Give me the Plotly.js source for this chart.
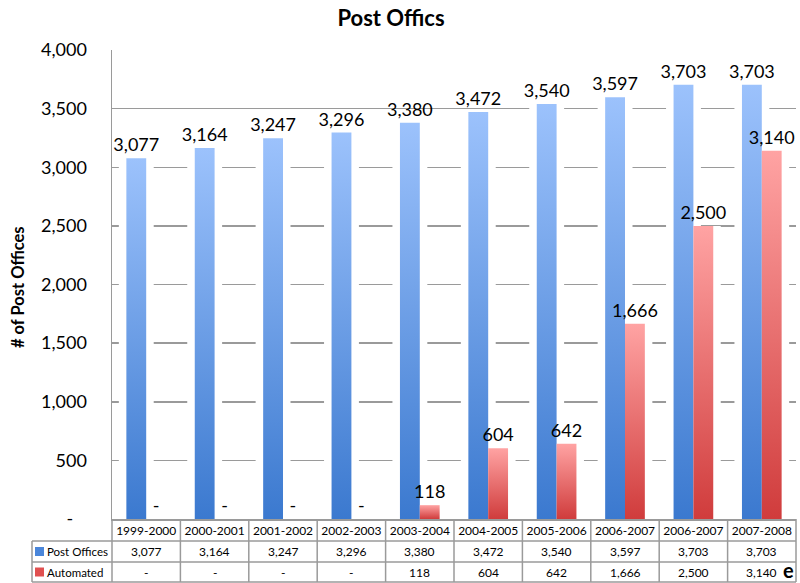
<!DOCTYPE html>
<html>
<head>
<meta charset="utf-8">
<script src="https://cdn.plot.ly/plotly-3.0.1.min.js"></script>
<style>
html,body{margin:0;padding:0;background:#fff;}
#chart{width:800px;height:583px;}
</style>
</head>
<body>
<div id="chart"></div>
<script>
var categories = ['1999-2000','2000-2001','2001-2002','2002-2003','2003-2004','2004-2005','2005-2006','2006-2007','2006-2007','2007-2008'];
var postOffices = [3077, 3164, 3247, 3296, 3380, 3472, 3540, 3597, 3703, 3703];
var automated = [0, 0, 0, 0, 118, 604, 642, 1666, 2500, 3140];
var yTickVals = [0, 500, 1000, 1500, 2000, 2500, 3000, 3500, 4000];
var yTickText = ['-\u00a0\u00a0\u00a0', '500', '1,000', '1,500', '2,000', '2,500', '3,000', '3,500', '4,000'];
var seriesNames = ['Post Offices', 'Automated'];

function fmt(v){ return v === 0 ? '-' : v.toLocaleString('en-US'); }

var FONT = 'Lato, "Open Sans", sans-serif';
var N = categories.length;
var idx = categories.map(function(c, i){ return i; });

// layout geometry (pixels)
var W = 800, H = 583, ML = 112, MR = 4, MT = 50, MB = 64;
var PW = W - ML - MR, PH = H - MT - MB;
function px(x){ return (x - ML) / PW; }
function py(y){ return (H - MB - y) / PH; }

var BW = 0.29, HALO = 0.11;
var traces = [
  {type:'bar', x: idx, y: postOffices, offset: -BW - HALO, width: BW + 2*HALO, marker:{color:'#ffffff', line:{width:0}}, hoverinfo:'skip', showlegend:false},
  {type:'bar', x: idx, y: automated, offset: 0, width: BW + HALO, marker:{color:'#ffffff', line:{width:0}}, hoverinfo:'skip', showlegend:false},
  {type:'bar', name: seriesNames[0], x: idx, y: postOffices, offset: -BW, width: BW,
   marker:{color:'#6a9de6', line:{width:0}}, text: postOffices.map(fmt), textposition:'outside',
   textfont:{family:FONT, size:18, color:'#000'}, constraintext:'none', cliponaxis:false},
  {type:'bar', name: seriesNames[1], x: idx, y: automated, offset: 0, width: BW,
   marker:{color:'#e87070', line:{width:0}}, text: automated.map(fmt), textposition:'outside',
   textfont:{family:FONT, size:18, color:'#000'}, constraintext:'none', cliponaxis:false}
];

var GRID = '#9a9a9a';
var shapes = [];
var annotations = [];
function line(x0,y0,x1,y1){ shapes.push({type:'line', xref:'paper', yref:'paper', x0:x0, y0:y0, x1:x1, y1:y1, line:{color:GRID, width:1.5}, layer:'above'}); }
// table horizontal lines
var rowTop = py(519), rowA = py(541), rowB = py(562), rowC = py(582);
line(px(32), rowA, 1, rowA);
line(px(32), rowB, 1, rowB);
line(px(32), rowC, 1, rowC);
// vertical lines
line(px(32), rowA, px(32), rowC);
for (var i = 0; i <= N; i++) { line(i / N, rowTop, i / N, rowC); }
// table values
var rowY = [(rowA + rowB) / 2, (rowB + rowC) / 2];
[postOffices, automated].forEach(function(arr, r){
  arr.forEach(function(v, i){
    annotations.push({xref:'x', yref:'paper', x:i, y:rowY[r], text: fmt(v), showarrow:false,
      font:{family:FONT, size:12, color:'#000'}, xanchor:'center', yanchor:'middle'});
  });
});
// row labels with swatches
var swatch = ['#4a86da', '#e05050'];
seriesNames.forEach(function(n, r){
  shapes.push({type:'rect', xref:'paper', yref:'paper', x0:px(35), x1:px(44), y0:rowY[r] - 4.5/PH, y1:rowY[r] + 4.5/PH,
    fillcolor: swatch[r], line:{width:0}, layer:'above'});
  annotations.push({xref:'paper', yref:'paper', x:px(45), y:rowY[r], text:n, showarrow:false,
    font:{family:FONT, size:11.5, color:'#000'}, xanchor:'left', yanchor:'middle'});
});
// y-axis title
annotations.push({xref:'paper', yref:'paper', x:px(18), y:py(287), text:'<b># of Post Offices</b>', textangle:-90,
  showarrow:false, font:{family:FONT, size:16.5, color:'#000'}, xanchor:'center', yanchor:'middle'});
// stray glyph at bottom-right
annotations.push({xref:'paper', yref:'paper', x:px(795), y:py(570), text:'<b>e</b>', showarrow:false,
  font:{family:FONT, size:20, color:'#000'}, xanchor:'right', yanchor:'middle', borderpad:0});

var layout = {
  width: W, height: H,
  margin: {l: ML, r: MR, t: MT, b: MB, pad: 0},
  paper_bgcolor:'#fff', plot_bgcolor:'#fff',
  font: {family: FONT, color:'#000'},
  title: {text:'<b>Post Offics</b>', x: 391/W, xanchor:'center', xref:'container', y: 1 - 18/H, yanchor:'middle', yref:'container',
    font:{family:FONT, size:22, color:'#000'}},
  barmode:'overlay',
  showlegend:false,
  xaxis: {range:[-0.5, N - 0.5], tickmode:'array', tickvals: idx, ticktext: categories, showgrid:false, zeroline:false,
    showline:true, linecolor:GRID, linewidth:1.5, ticks:'', tickfont:{family:FONT, size:12, color:'#000'}, fixedrange:true},
  yaxis: {range:[0, 4000], tickmode:'array', tickvals: yTickVals, ticktext: yTickText, showgrid:true, gridcolor:GRID, gridwidth:1.5,
    zeroline:false, showline:true, linecolor:GRID, linewidth:1.5, ticks:'', ticklabelstandoff: 20,
    tickfont:{family:FONT, size:18, color:'#000'}, fixedrange:true},
  shapes: shapes,
  annotations: annotations
};

Plotly.newPlot('chart', traces, layout, {displayModeBar:false, staticPlot:true}).then(function(gd){
  var svg = gd.querySelector('svg.main-svg');
  var defs = svg.querySelector('defs');
  var NS = 'http://www.w3.org/2000/svg';
  function grad(id, top, bottom){
    var g = document.createElementNS(NS, 'linearGradient');
    g.setAttribute('id', id); g.setAttribute('x1','0'); g.setAttribute('y1','0'); g.setAttribute('x2','0'); g.setAttribute('y2','1');
    [[0, top], [1, bottom]].forEach(function(s){
      var st = document.createElementNS(NS, 'stop');
      st.setAttribute('offset', s[0]); st.setAttribute('stop-color', s[1]);
      g.appendChild(st);
    });
    defs.appendChild(g);
  }
  grad('gBlue', '#9cc2fc', '#3b79cf');
  grad('gRed', '#ffa3a3', '#d03c3c');
  var tr = gd.querySelectorAll('.barlayer .trace');
  if (tr.length >= 4) {
    tr[2].querySelectorAll('.point path').forEach(function(p){ p.style.fill = 'url(#gBlue)'; });
    tr[3].querySelectorAll('.point path').forEach(function(p){ p.style.fill = 'url(#gRed)'; });
  }
});
</script>
</body>
</html>
